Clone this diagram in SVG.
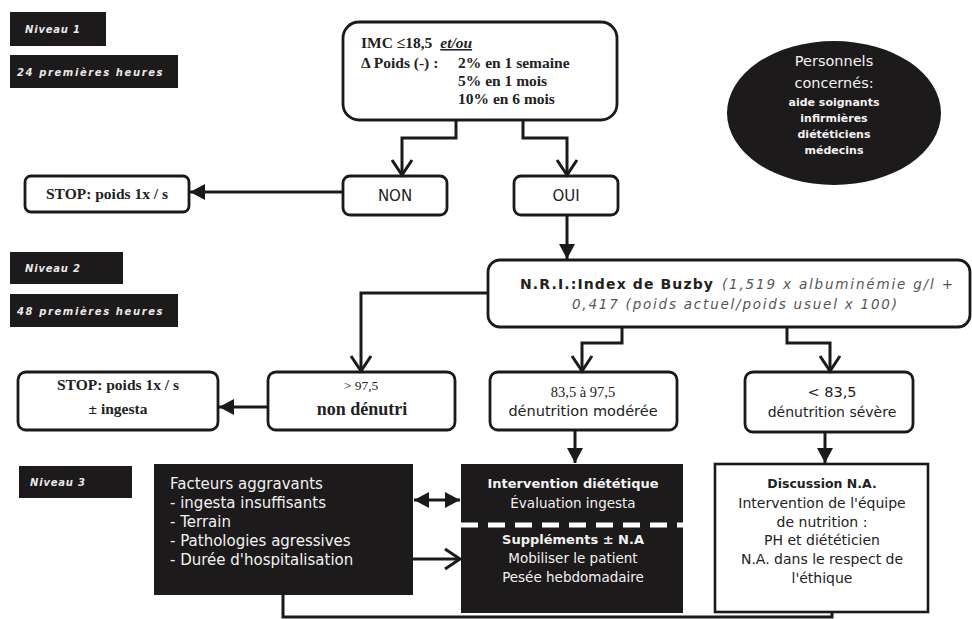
<svg xmlns="http://www.w3.org/2000/svg" width="972" height="619" viewBox="0 0 972 619">
  <defs>
    <style>
      .box{fill:#fff;stroke:#1a1a1a;stroke-width:2.8}
      .sq{fill:#fff;stroke:#1a1a1a;stroke-width:2.6}
      .dark{fill:#1d1a1b}
      .lbl{font-family:"DejaVu Sans",sans-serif;font-size:10px;font-style:italic;font-weight:bold;fill:#e8e8e8;letter-spacing:0.8px}
      .serif{font-family:"Liberation Serif",serif;font-weight:bold;fill:#222}
      .reg{font-weight:normal}
      .sans{font-family:"DejaVu Sans",sans-serif;fill:#222}
      .wsans{font-family:"DejaVu Sans",sans-serif;fill:#f2f2f2}
      .it{font-style:italic;fill:#555}
      .wire{fill:none;stroke:#1a1a1a;stroke-width:3}
      .c{text-anchor:middle}
    </style>
    <marker id="open" markerUnits="userSpaceOnUse" markerWidth="24" markerHeight="26" refX="17" refY="12" orient="auto" overflow="visible">
      <path d="M2,2 L17,12 L2,22" fill="none" stroke="#1a1a1a" stroke-width="3"/>
    </marker>
    <marker id="solid" markerUnits="userSpaceOnUse" markerWidth="18" markerHeight="18" refX="15" refY="8" orient="auto-start-reverse" overflow="visible">
      <path d="M0,0 L15,8 L0,16 z" fill="#1a1a1a"/>
    </marker>
  </defs>

  <rect width="972" height="619" fill="#fff"/>

  <!-- level tags -->
  <g id="tag-niveau1"><rect class="dark" x="10" y="12" width="96" height="34"/><text class="lbl" x="25" y="33">Niveau 1</text></g>
  <g id="tag-24h"><rect class="dark" x="10" y="55" width="168" height="33"/><text class="lbl" x="17" y="76" style="letter-spacing:1.6px">24 premières heures</text></g>
  <g id="tag-niveau2"><rect class="dark" x="10" y="252" width="113" height="32"/><text class="lbl" x="25" y="272">Niveau 2</text></g>
  <g id="tag-48h"><rect class="dark" x="10" y="294" width="168" height="33"/><text class="lbl" x="17" y="315" style="letter-spacing:1.6px">48 premières heures</text></g>
  <g id="tag-niveau3"><rect class="dark" x="19" y="466" width="113" height="32"/><text class="lbl" x="30" y="486">Niveau 3</text></g>

  <!-- staff ellipse -->
  <g id="staff">
    <ellipse cx="834" cy="113" rx="107" ry="72" fill="#1d1a1b"/>
    <text class="wsans c" x="834" y="66" font-size="14.5">Personnels</text>
    <text class="wsans c" x="834" y="88" font-size="14.5">concernés:</text>
    <text class="wsans c" x="834" y="106" font-size="11" font-weight="bold">aide soignants</text>
    <text class="wsans c" x="834" y="122" font-size="11" font-weight="bold">infirmières</text>
    <text class="wsans c" x="834" y="138" font-size="11" font-weight="bold">diététiciens</text>
    <text class="wsans c" x="834" y="154" font-size="11" font-weight="bold">médecins</text>
  </g>

  <!-- criteria -->
  <g id="criteria">
    <rect class="box" x="343" y="22" width="274" height="98" rx="16"/>
    <text class="serif" x="361" y="48" font-size="15.5">IMC ≤18,5 <tspan dx="4" font-style="italic" text-decoration="underline">et/ou</tspan></text>
    <text class="serif" x="361" y="68" font-size="15.5">Δ Poids (-) :</text>
    <text class="serif" x="458" y="68" font-size="15.5">2%  en 1 semaine</text>
    <text class="serif" x="458" y="86" font-size="15.5">5%  en 1 mois</text>
    <text class="serif" x="458" y="104" font-size="15.5">10% en 6 mois</text>
  </g>

  <g id="non"><rect class="box" x="343" y="176" width="104" height="39" rx="7"/><text class="sans c" x="395" y="201" font-size="15">NON</text></g>
  <g id="oui"><rect class="box" x="514" y="176" width="104" height="39" rx="7"/><text class="sans c" x="566" y="201" font-size="15">OUI</text></g>
  <g id="stop1"><rect class="box" x="25" y="176" width="164" height="36" rx="6"/><text class="serif c" x="107" y="199" font-size="15.5">STOP: poids 1x / s</text></g>

  <g id="nri">
    <rect class="box" x="488" y="260" width="482" height="67" rx="12"/>
    <text class="sans" x="520" y="289" font-size="14" font-weight="bold" textLength="193" lengthAdjust="spacing">N.R.I.:Index de Buzby</text>
    <text class="sans it" x="722" y="289" font-size="13.5" textLength="231" lengthAdjust="spacing">(1,519 x albuminémie g/l +</text>
    <text class="sans it" x="572" y="309" font-size="13.5" textLength="325" lengthAdjust="spacing">0,417 (poids actuel/poids usuel x 100)</text>
  </g>

  <g id="stop2"><rect class="box" x="18" y="372" width="200" height="58" rx="8"/>
    <text class="serif c" x="118" y="390" font-size="15.5">STOP: poids 1x / s</text>
    <text class="serif c" x="118" y="414" font-size="15.5">± ingesta</text></g>
  <g id="nondenutri"><rect class="box" x="268" y="372" width="187" height="58" rx="8"/>
    <text class="serif reg c" x="361" y="390" font-size="13.5">&gt; 97,5</text>
    <text class="serif c" x="362" y="415" font-size="18">non dénutri</text></g>
  <g id="moderee"><rect class="box" x="490" y="372" width="187" height="58" rx="8"/>
    <text class="serif reg c" x="583" y="397" font-size="14.5">83,5 à 97,5</text>
    <text class="sans c" x="583" y="416" font-size="14.5">dénutrition modérée</text></g>
  <g id="severe"><rect class="box" x="745" y="372" width="168" height="60" rx="8"/>
    <text class="sans c" x="832" y="397" font-size="14.5">&lt; 83,5</text>
    <text class="sans c" x="832" y="417" font-size="14">dénutrition sévère</text></g>

  <g id="facteurs">
    <rect class="dark" x="154" y="464" width="259" height="131"/>
    <text class="wsans" x="170" y="489" font-size="15">Facteurs aggravants</text>
    <text class="wsans" x="170" y="508" font-size="15">- ingesta insuffisants</text>
    <text class="wsans" x="170" y="527" font-size="15">- Terrain</text>
    <text class="wsans" x="170" y="546" font-size="15">- Pathologies agressives</text>
    <text class="wsans" x="170" y="565" font-size="15">- Durée d'hospitalisation</text>
  </g>

  <g id="intervention">
    <rect class="dark" x="461" y="464" width="222" height="149"/>
    <line x1="461" y1="525" x2="683" y2="525" stroke="#fff" stroke-width="5" stroke-dasharray="17 10"/>
    <text class="wsans c" x="573" y="488" font-size="13" font-weight="bold">Intervention diététique</text>
    <text class="wsans c" x="573" y="508" font-size="13.5">Évaluation ingesta</text>
    <text class="wsans c" x="573" y="544" font-size="13" font-weight="bold">Suppléments ± N.A</text>
    <text class="wsans c" x="573" y="563" font-size="13.5">Mobiliser le patient</text>
    <text class="wsans c" x="573" y="582" font-size="13.5">Pesée hebdomadaire</text>
  </g>

  <g id="discussion">
    <rect class="sq" x="715" y="464" width="213" height="148"/>
    <text class="sans c" x="822" y="488" font-size="12.5" font-weight="bold">Discussion N.A.</text>
    <text class="sans c" x="822" y="508" font-size="14">Intervention de l'équipe</text>
    <text class="sans c" x="822" y="527" font-size="14">de nutrition :</text>
    <text class="sans c" x="822" y="545" font-size="14">PH et diététicien</text>
    <text class="sans c" x="822" y="564" font-size="14">N.A. dans le respect de</text>
    <text class="sans c" x="822" y="583" font-size="14">l'éthique</text>
  </g>

  <!-- connectors -->
  <g id="connectors" class="wire">
    <path d="M456,121 V138 H402 V175" marker-end="url(#open)"/>
    <path d="M523,121 V138 H567 V175" marker-end="url(#open)"/>
    <path d="M343,192 H190" marker-end="url(#solid)"/>
    <path d="M567,215 V259" marker-end="url(#solid)"/>
    <path d="M488,293 H361 V371" marker-end="url(#open)"/>
    <path d="M622,327 V343 H582 V371" marker-end="url(#open)"/>
    <path d="M787,327 V343 H830 V371" marker-end="url(#open)"/>
    <path d="M268,407 H219" marker-end="url(#solid)"/>
    <path d="M575,430 V463" marker-end="url(#solid)"/>
    <path d="M825,432 V463" marker-end="url(#solid)"/>
    <path d="M414,500 H460" marker-start="url(#solid)" marker-end="url(#solid)"/>
    <path d="M413,559 H460" marker-end="url(#open)"/>
    <path d="M283,595 V617 H832 V612"/>
  </g>
</svg>
